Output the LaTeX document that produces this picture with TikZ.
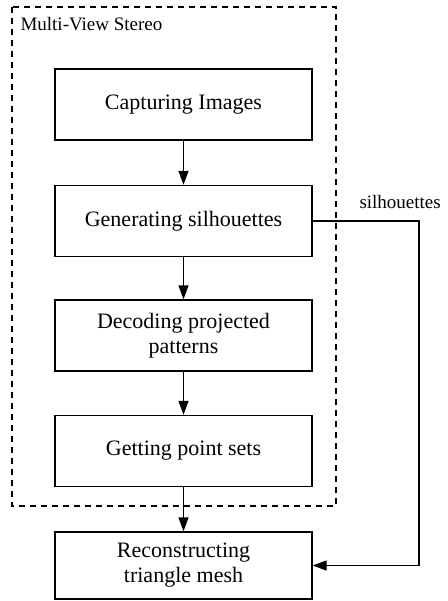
\documentclass[tikz,border=0pt]{standalone}
\usepackage{fontspec}
\setmainfont{Liberation Serif}
\usetikzlibrary{positioning,calc,arrows.meta}
\tikzset{stepbox/.style={draw,rectangle,line width=1.4pt,minimum width=257pt,minimum height=71pt,align=center,inner sep=0pt,font=\fontsize{22}{25}\selectfont}  }
\tikzset{flow/.style={line width=1.4pt}  }
\tikzset{>={Triangle[length=14pt,width=10pt]}}

\begin{document}
\begin{tikzpicture}[x=1pt,y=-1pt]
	\useasboundingbox (0,0) rectangle (447,601);
		\draw[flow,dash pattern=on 6pt off 5pt] (12,7) rectangle (336,506);
		\node[anchor=base west,font=\fontsize{19}{22}\selectfont] (mvs) at (17,31) {Multi-View Stereo};

			\node[stepbox] (cap) at (183.5,104.5) {Capturing Images};
			\node[stepbox] (gen) at (183.5,221) {Generating silhouettes};
			\node[stepbox] (dec) at (183.5,335.5) {Decoding projected\\patterns};
			\node[stepbox] (pts) at (183.5,451) {Getting point sets};
			\node[stepbox,minimum height=67pt] (rec) at (183.5,565.5) {Reconstructing\\triangle mesh};
			\coordinate (turn) at (419,221);

			\draw[flow,->]
				  (cap) edge (gen) (gen) edge (dec) (dec) edge (pts) (pts) edge (rec)
				;
			\draw[flow,->] (gen.east) -- (turn) |- (rec.east);
				\node[anchor=base west,font=\fontsize{19}{22}\selectfont] (sil) at (356,209) {silhouettes};
	\end{tikzpicture}
\end{document}
